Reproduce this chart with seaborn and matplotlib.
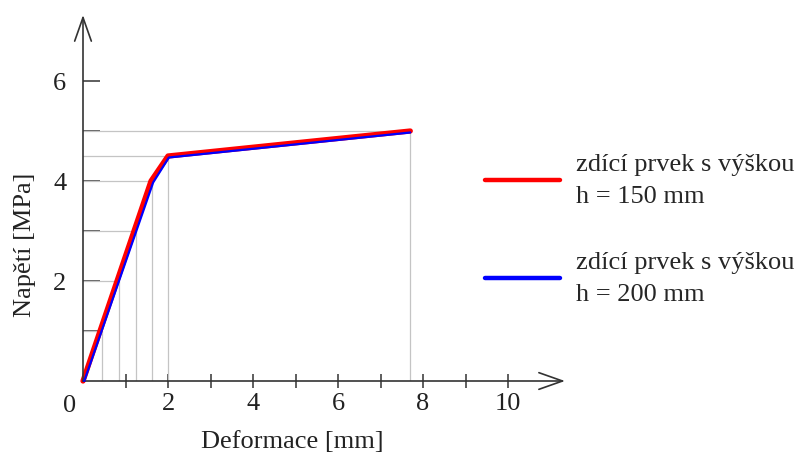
import matplotlib
matplotlib.use('Agg')
import matplotlib.pyplot as plt
import seaborn as sns

# data
def_150 = [0.0, 1.6, 2.0, 7.7]
nap_150 = [0.0, 4.0, 4.5, 5.0]
def_200 = [0.03, 1.65, 2.02, 7.7]
nap_200 = [0.0, 3.97, 4.47, 4.97]

# gray projection lines (deformation, stress)
proj_x = [0.44, 0.85, 1.24, 1.63, 2.0, 7.7]
proj_y = [1.0, 2.0, 3.0, 4.0, 4.5, 5.0]

x_major = [2, 4, 6, 8, 10]
x_minor = [1, 3, 5, 7, 9]
y_major = [2, 4, 6]
y_minor = [1, 3, 5]

label_150 = 'zdící prvek s výškou\nh = 150 mm'
label_200 = 'zdící prvek s výškou\nh = 200 mm'

sns.set_style('white')
plt.rcParams['font.family'] = ['Liberation Serif', 'DejaVu Serif']
plt.rcParams['font.size'] = 19

fig = plt.figure(figsize=(8.04, 4.55), dpi=100)
ax = fig.add_axes([83 / 804, 1 - 381 / 455, (565 - 83) / 804, (381 - 15) / 455])
ax.set_xlim(0, 11.34)
ax.set_ylim(0, 7.32)

axis_col = '#333333'
grid_col = '#c4c4c4'

# projection lines
for px, py in zip(proj_x, proj_y):
    ax.plot([0, px], [py, py], color=grid_col, lw=0.9, zorder=1)
    ax.plot([px, px], [0, py], color=grid_col, lw=0.9, zorder=1)

sns.lineplot(x=def_150, y=nap_150, sort=False, color='#ff0000', lw=3.8,
             ax=ax, label=label_150, zorder=3, clip_on=False)
sns.lineplot(x=def_200, y=nap_200, sort=False, color='#0000ff', lw=1.6,
             ax=ax, label=label_200, zorder=4, clip_on=False)

for s in ax.spines.values():
    s.set_visible(False)

# axes with open arrow heads
arrow = dict(arrowstyle='->,head_length=0.85,head_width=0.3', color=axis_col,
             lw=1.2, mutation_scale=20, shrinkA=0, shrinkB=0)
ax.annotate('', xy=(1, 0), xytext=(0, 0), xycoords='axes fraction',
            arrowprops=arrow, annotation_clip=False)
ax.annotate('', xy=(0, 1), xytext=(0, 0), xycoords='axes fraction',
            arrowprops=arrow, annotation_clip=False)

ax.set_xticks(x_major)
ax.set_xticks(x_minor, minor=True)
ax.set_yticks(y_major)
ax.set_yticks(y_minor, minor=True)
ax.tick_params(axis='x', which='both', direction='inout', length=10, width=1.1,
               color=axis_col, pad=4, bottom=True)
ax.tick_params(axis='y', which='both', direction='in', length=12, width=1.1,
               color=axis_col, pad=12, left=True)
ax.tick_params(labelsize=19, labelcolor='#222222')

ax.annotate('0', xy=(0, 0), xytext=(-10, -18), textcoords='offset points',
            ha='center', va='center', fontsize=19, color='#222222',
            annotation_clip=False)

fig.text(292 / 804, 1 - 442 / 455, 'Deformace [mm]', ha='center', va='center',
         fontsize=19, color='#222222')
fig.text(25 / 804, 1 - 245 / 455, 'Napětí [MPa]', ha='center', va='center',
         rotation=90, fontsize=19, color='#222222')

leg = ax.legend(loc='upper left', bbox_to_anchor=(474 / 804, 1 - 143 / 455),
                bbox_transform=fig.transFigure, frameon=False, fontsize=19,
                handlelength=2.85, handletextpad=0.6, labelspacing=1.66,
                borderaxespad=0)
for line in leg.get_lines():
    line.set_linewidth(3.2)
for t in leg.get_texts():
    t.set_linespacing(1.6)

fig.savefig('out.png', dpi=100)
